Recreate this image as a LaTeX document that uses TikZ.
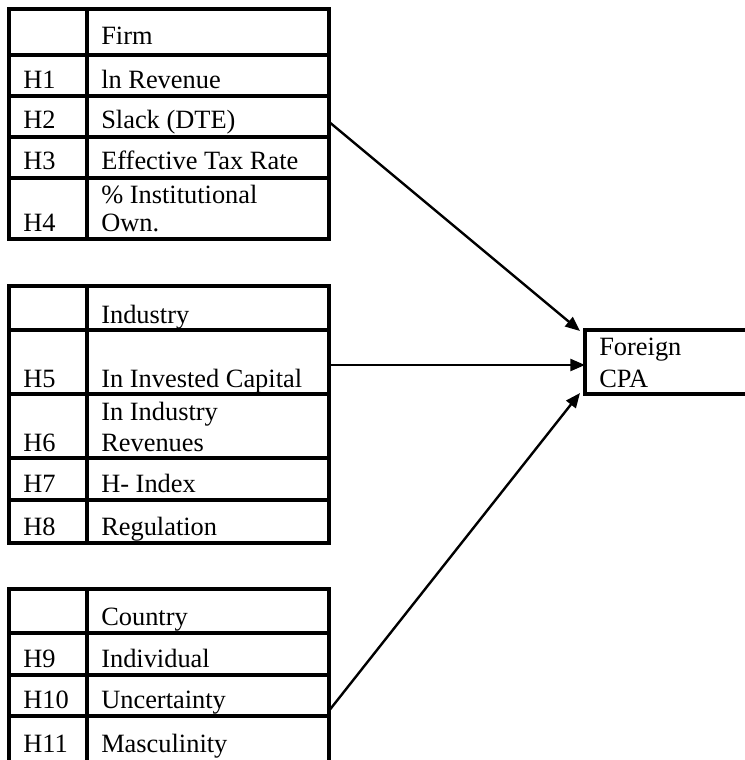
\documentclass[tikz,border=0pt]{standalone}
\usepackage{fontspec}
\setmainfont{Liberation Serif}
\usepackage{tikz}
\usetikzlibrary{positioning, arrows.meta}
\tikzset{
  txt/.style={anchor=base west, inner sep=0pt, font=\fontsize{19.8}{24}\selectfont},
  rule/.style={line width=2.5pt},
  link/.style={line width=1.8pt, -{Triangle[length=11pt,width=9pt]}}
}

\begin{document}
\begin{tikzpicture}[x=0.75pt,y=-0.75pt]
        \useasboundingbox (0,0) rectangle (744,760);
        % firm table
        \draw[rule] (9,9) rectangle (329,239);
        \draw[rule] (87,9) -- (87,239);
        \foreach \y in {55,96,137,178} \draw[rule] (9,\y) -- (329,\y);
        \node[txt] (firm) at (101,44) {Firm};
        \node[txt] (h1) at (23,88) {H1};
        \node[txt] (rev) at (101,88) {ln Revenue};
        \node[txt] (h2) at (23,128) {H2};
        \node[txt] (slack) at (101,128) {Slack (DTE)};
        \node[txt] (h3) at (23,169) {H3};
        \node[txt] (etr) at (101,169) {Effective Tax Rate};
        \node[txt] (inst) at (101,203) {\% Institutional};
        \node[txt] (h4) at (23,231) {H4};
        \node[txt] (own) at (101,231) {Own.};
        % industry table
        \draw[rule] (9,286) rectangle (329,543);
        \draw[rule] (87,286) -- (87,543);
        \foreach \y in {330,394,458,500} \draw[rule] (9,\y) -- (329,\y);
        \node[txt] (ind) at (101,323) {Industry};
        \node[txt] (h5) at (23,387) {H5};
        \node[txt] (cap) at (101,387) {In Invested Capital};
        \node[txt] (indrev) at (101,420) {In Industry};
        \node[txt] (h6) at (23,451) {H6};
        \node[txt] (revs) at (101,451) {Revenues};
        \node[txt] (h7) at (23,492) {H7};
        \node[txt] (hidx) at (101,492) {H- Index};
        \node[txt] (h8) at (23,535) {H8};
        \node[txt] (reg) at (101,535) {Regulation};
        % country table
        \draw[rule] (9,589) rectangle (329,800);
        \draw[rule] (87,589) -- (87,800);
        \foreach \y in {633,675,716} \draw[rule] (9,\y) -- (329,\y);
        \node[txt] (ctry) at (101,625) {Country};
        \node[txt] (h9) at (23,667) {H9};
        \node[txt] (indiv) at (101,667) {Individual};
        \node[txt] (h10) at (23,708) {H10};
        \node[txt] (unc) at (101,708) {Uncertainty};
        \node[txt] (h11) at (23,752) {H11};
        \node[txt] (masc) at (101,752) {Masculinity};
        % outcome
        \node[draw, rule, anchor=north west, outer sep=0pt, inner sep=0pt,
              minimum width=161pt, minimum height=48pt] (cpa) at (585,330) {};
        \node[txt] (foreign) at (599,355) {Foreign};
        \node[txt] (cpatxt) at (599,387) {CPA};
        \coordinate (s1) at (328,121);
        \coordinate (s2) at (328,365);
        \coordinate (s3) at (328,712);
        \draw[link] (s1) -- ([shift={(-5,1)}]cpa.north west);
        \draw[link] (s2) -- (s2 -| cpa.west);
        \draw[link] (s3) -- ([shift={(-5,-1)}]cpa.south west);
\end{tikzpicture}
\end{document}
